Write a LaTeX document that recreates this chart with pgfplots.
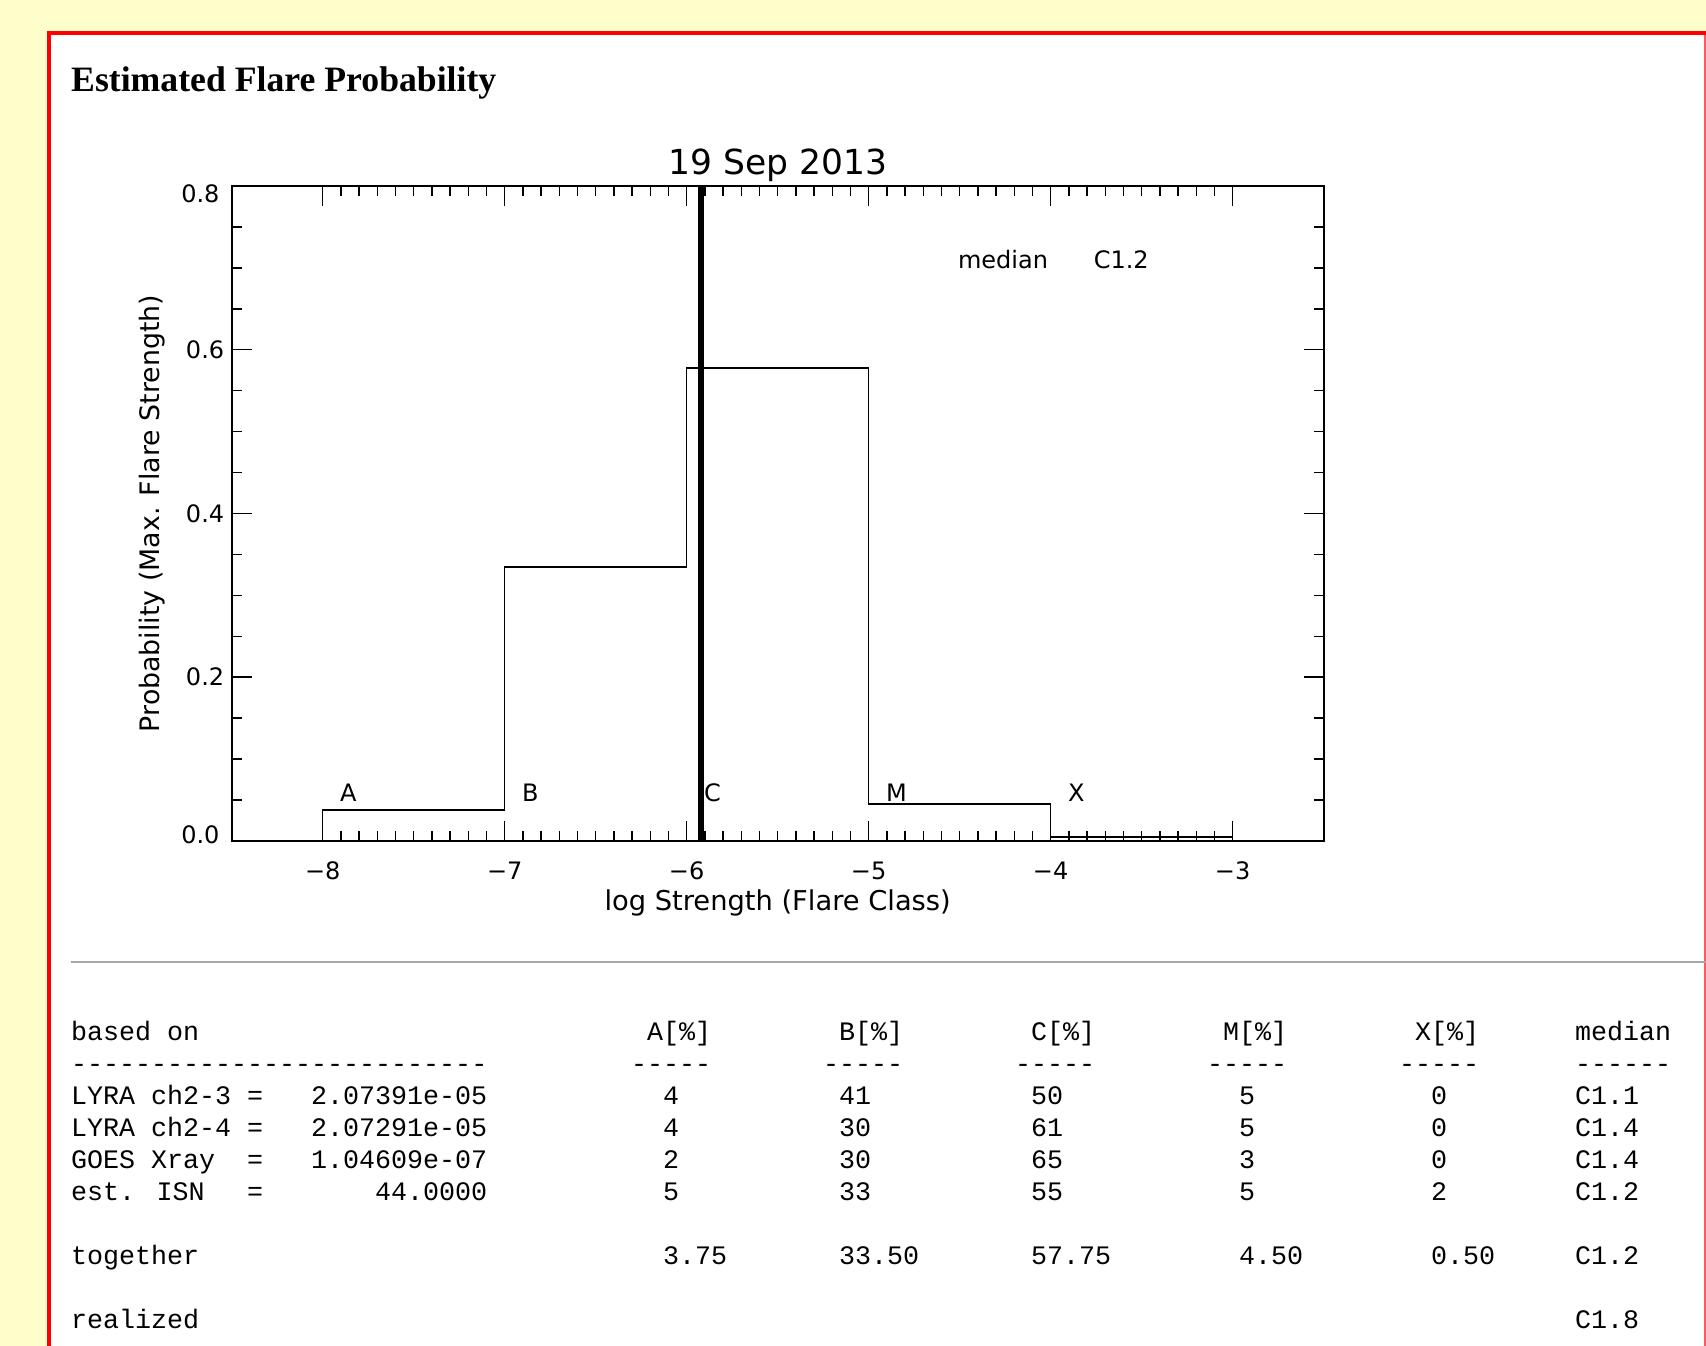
\documentclass[border=0pt]{standalone}
\usepackage{fontspec}
\setmainfont{DejaVu Sans}
\newfontfamily\titlefont{Liberation Serif}
\newfontfamily\tablefont{Liberation Mono}
\usepackage{pgfplots}
\pgfplotsset{compat=1.18}
\definecolor{pagebg}{RGB}{255,255,204}
\definecolor{hrgray}{RGB}{165,165,165}
\definecolor{bordred}{RGB}{255,0,0}
\definecolor{bordredlight}{RGB}{255,90,90}
\newcommand\dd{-\kern0pt}
\newcommand\T[3]{\node[anchor=base west, inner sep=0pt, font=\tablefont\fontsize{26.67}{32}\selectfont, text=black] at ({(71+#1*16)*1pt}, {(1346-#2)*1pt}) {#3};}
\begin{document}
\begin{tikzpicture}
\path[use as bounding box, clip] (0pt,0pt) rectangle (1706pt,1346pt);
\fill[pagebg] (0pt,0pt) rectangle (1706pt,1346pt);
\fill[white] (49pt,0pt) rectangle (1704.5pt,1313pt);
\draw[bordredlight, line width=2pt] (1704.5pt,1313pt) -- (1704.5pt,-20pt);
\draw[bordred, line width=4pt] (49pt,-20pt) -- (49pt,1313pt) -- (1706pt,1313pt);
\node[anchor=base west, inner sep=0pt, font=\titlefont\bfseries\fontsize{35.7}{40}\selectfont] at (71pt,1254pt) {Estimated Flare Probability};
\draw[hrgray, line width=2pt] (71pt,384pt) -- (1710pt,384pt);
% table
\T{0}{1041}{based on}
\T{36}{1041}{A[\%]}
\T{48}{1041}{B[\%]}
\T{60}{1041}{C[\%]}
\T{72}{1041}{M[\%]}
\T{84}{1041}{X[\%]}
\T{94}{1041}{median}
\T{0}{1073}{\dd\dd\dd\dd\dd\dd\dd\dd\dd\dd\dd\dd\dd\dd\dd\dd\dd\dd\dd\dd\dd\dd\dd\dd\dd\dd}
\T{35}{1073}{\dd\dd\dd\dd\dd}
\T{47}{1073}{\dd\dd\dd\dd\dd}
\T{59}{1073}{\dd\dd\dd\dd\dd}
\T{71}{1073}{\dd\dd\dd\dd\dd}
\T{83}{1073}{\dd\dd\dd\dd\dd}
\T{94}{1073}{\dd\dd\dd\dd\dd\dd}
\T{0}{1105}{LYRA ch2-3}\T{11}{1105}{=}\T{15}{1105}{2.07391e-05}
\T{37}{1105}{4}\T{48}{1105}{41}\T{60}{1105}{50}\T{73}{1105}{5}\T{85}{1105}{0}\T{94}{1105}{C1.1}
\T{0}{1137}{LYRA ch2-4}\T{11}{1137}{=}\T{15}{1137}{2.07291e-05}
\T{37}{1137}{4}\T{48}{1137}{30}\T{60}{1137}{61}\T{73}{1137}{5}\T{85}{1137}{0}\T{94}{1137}{C1.4}
\T{0}{1169}{GOES Xray}\T{11}{1169}{=}\T{15}{1169}{1.04609e-07}
\T{37}{1169}{2}\T{48}{1169}{30}\T{60}{1169}{65}\T{73}{1169}{3}\T{85}{1169}{0}\T{94}{1169}{C1.4}
\T{0}{1201}{est. ISN}\T{11}{1201}{=}\T{19}{1201}{44.0000}
\T{37}{1201}{5}\T{48}{1201}{33}\T{60}{1201}{55}\T{73}{1201}{5}\T{85}{1201}{2}\T{94}{1201}{C1.2}
\T{0}{1265}{together}
\T{37}{1265}{3.75}\T{48}{1265}{33.50}\T{60}{1265}{57.75}\T{73}{1265}{4.50}\T{85}{1265}{0.50}\T{94}{1265}{C1.2}
\T{0}{1329}{realized}\T{94}{1329}{C1.8}
\begin{axis}[
  at={(231.7pt,505pt)}, anchor=south west,
  scale only axis, width=1092pt, height=655pt,
  xmin=-8.5, xmax=-2.5, ymin=0, ymax=0.8,
  xtick={-8,-7,-6,-5,-4,-3},
  xticklabels={−8,−7,−6,−5,−4,−3},
  ytick={0,0.2,0.4,0.6,0.8},
  yticklabels={,0.2,0.4,0.6,},
  minor x tick num=9, minor y tick num=3,
  tick align=inside,
  major tick length=20pt, minor tick length=10pt,
  every tick/.style={black, line width=1.5pt},
  axis line style={line width=1.8pt},
  tick label style={font=\fontsize{24}{28}\selectfont},
  xticklabel style={yshift=-17pt},
  yticklabel style={xshift=-4pt},
  title={19 Sep 2013},
  title style={at={(0.5,1)}, anchor=base, yshift=5pt, font=\fontsize{34.5}{40}\selectfont},
  xlabel={log Strength (Flare Class)},
  ylabel={Probability (Max. Flare Strength)},
  xlabel style={at={(axis description cs:0.5,-0.095)}, anchor=center, font=\fontsize{27.3}{32}\selectfont},
  ylabel style={at={(axis description cs:-0.073,0.5)}, anchor=center, font=\fontsize{26.8}{32}\selectfont},
  clip=false,
]
\addplot[const plot, black, line width=1.6pt] coordinates {(-8,0) (-8,0.0375) (-7,0.335) (-6,0.5775) (-5,0.045) (-4,0.005) (-3,0.005)};
\addplot[black, line width=5.5pt] coordinates {(-5.921,0) (-5.921,0.8)};
\node[anchor=east, inner sep=0pt, xshift=-12pt, yshift=6.5pt, font=\fontsize{24}{28}\selectfont] at (axis cs:-8.5,0) {0.0};
\node[anchor=east, inner sep=0pt, xshift=-12pt, yshift=-7.5pt, font=\fontsize{24}{28}\selectfont] at (axis cs:-8.5,0.8) {0.8};
\node[anchor=west, inner sep=0pt, font=\fontsize{24}{28}\selectfont] at (axis cs:-7.905,0.0585) {A};
\node[anchor=west, inner sep=0pt, font=\fontsize{24}{28}\selectfont] at (axis cs:-6.905,0.0585) {B};
\node[anchor=west, inner sep=0pt, font=\fontsize{24}{28}\selectfont] at (axis cs:-5.905,0.0585) {C};
\node[anchor=west, inner sep=0pt, font=\fontsize{24}{28}\selectfont] at (axis cs:-4.905,0.0585) {M};
\node[anchor=west, inner sep=0pt, font=\fontsize{24}{28}\selectfont] at (axis cs:-3.905,0.0585) {X};
\node[anchor=west, inner sep=0pt, font=\fontsize{24}{28}\selectfont] at (axis cs:-4.51,0.71) {median};
\node[anchor=west, inner sep=0pt, font=\fontsize{24}{28}\selectfont] at (axis cs:-3.764,0.71) {C1.2};
\end{axis}
\end{tikzpicture}
\end{document}
